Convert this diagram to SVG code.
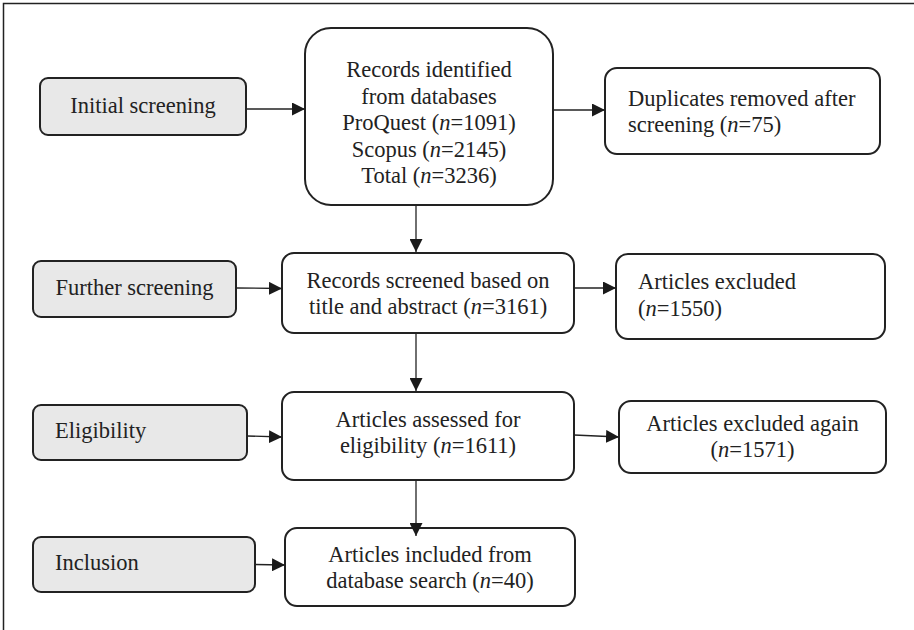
<svg xmlns="http://www.w3.org/2000/svg" width="914" height="630" viewBox="0 0 914 630">
<defs>
<marker id="ah" markerWidth="13" markerHeight="13" refX="13" refY="6.5" orient="auto" markerUnits="userSpaceOnUse">
<path d="M0,0 L13,6.5 L0,13 Z" fill="#1a1a1a"/>
</marker>
</defs>
<style>
.box{fill:#fff;stroke:#222;stroke-width:2}
.stage{fill:#e8e8e8;stroke:#222;stroke-width:2}
.t{font-family:"Liberation Serif","Times New Roman",serif;font-size:22.5px;fill:#222}
.c{text-anchor:middle}
.e{stroke:#222;stroke-width:1.3;fill:none;marker-end:url(#ah)}
</style>
<rect width="914" height="630" fill="#fff"/>
<path d="M3.5,640 L3.5,3.5 L920,3.5" fill="none" stroke="#222" stroke-width="1.5"/>

<g id="initial-screening">
<rect class="stage" x="40" y="78" width="206" height="57" rx="8"/>
<text class="t c" x="143" y="113">Initial screening</text>
</g>
<g id="records-identified">
<rect class="box" x="305" y="28" width="248" height="177" rx="26"/>
<text class="t c" x="429" y="77">Records identified</text>
<text class="t c" x="429" y="104">from databases</text>
<text class="t c" x="429" y="130">ProQuest (<tspan font-style="italic">n</tspan>=1091)</text>
<text class="t c" x="429" y="157">Scopus (<tspan font-style="italic">n</tspan>=2145)</text>
<text class="t c" x="429" y="183">Total (<tspan font-style="italic">n</tspan>=3236)</text>
</g>
<g id="duplicates">
<rect class="box" x="605" y="68" width="275" height="86" rx="12"/>
<text class="t" x="628" y="106">Duplicates removed after</text>
<text class="t" x="628" y="132">screening (<tspan font-style="italic">n</tspan>=75)</text>
</g>

<g id="further-screening">
<rect class="stage" x="33" y="261" width="203" height="56" rx="8"/>
<text class="t c" x="134.5" y="295">Further screening</text>
</g>
<g id="records-screened">
<rect class="box" x="282" y="253" width="292" height="80" rx="12"/>
<text class="t c" x="428" y="288">Records screened based on</text>
<text class="t c" x="428" y="314">title and abstract (<tspan font-style="italic">n</tspan>=3161)</text>
</g>
<g id="articles-excluded">
<rect class="box" x="616" y="254" width="269" height="85" rx="12"/>
<text class="t" x="638" y="289">Articles excluded</text>
<text class="t" x="638" y="316">(<tspan font-style="italic">n</tspan>=1550)</text>
</g>

<g id="eligibility">
<rect class="stage" x="33" y="405" width="214" height="55" rx="8"/>
<text class="t" x="55" y="438">Eligibility</text>
</g>
<g id="articles-assessed">
<rect class="box" x="282" y="392" width="292" height="88" rx="12"/>
<text class="t c" x="428" y="427">Articles assessed for</text>
<text class="t c" x="428" y="453">eligibility (<tspan font-style="italic">n</tspan>=1611)</text>
</g>
<g id="articles-excluded-again">
<rect class="box" x="619" y="401" width="267" height="72" rx="12"/>
<text class="t c" x="752.5" y="431">Articles excluded again</text>
<text class="t c" x="752.5" y="457">(<tspan font-style="italic">n</tspan>=1571)</text>
</g>

<g id="inclusion">
<rect class="stage" x="33" y="537" width="222" height="55" rx="8"/>
<text class="t" x="55" y="570">Inclusion</text>
</g>
<g id="articles-included">
<rect class="box" x="285" y="528" width="290" height="78" rx="12"/>
<text class="t c" x="430" y="562">Articles included from</text>
<text class="t c" x="430" y="588">database search (<tspan font-style="italic">n</tspan>=40)</text>
</g>

<g id="connectors">
<line class="e" x1="246" y1="109" x2="305" y2="109"/>
<line class="e" x1="553" y1="110" x2="605" y2="110"/>
<line class="e" x1="416" y1="205" x2="416" y2="252"/>
<line class="e" x1="236" y1="288" x2="282" y2="288.5"/>
<line class="e" x1="574" y1="288" x2="616" y2="288"/>
<line class="e" x1="416" y1="333" x2="416" y2="391"/>
<line class="e" x1="247" y1="436" x2="282" y2="437"/>
<line class="e" x1="574" y1="435" x2="619" y2="437"/>
<line class="e" x1="416" y1="480" x2="416" y2="536"/>
<line class="e" x1="255" y1="564.5" x2="285" y2="565"/>
</g>
</svg>
